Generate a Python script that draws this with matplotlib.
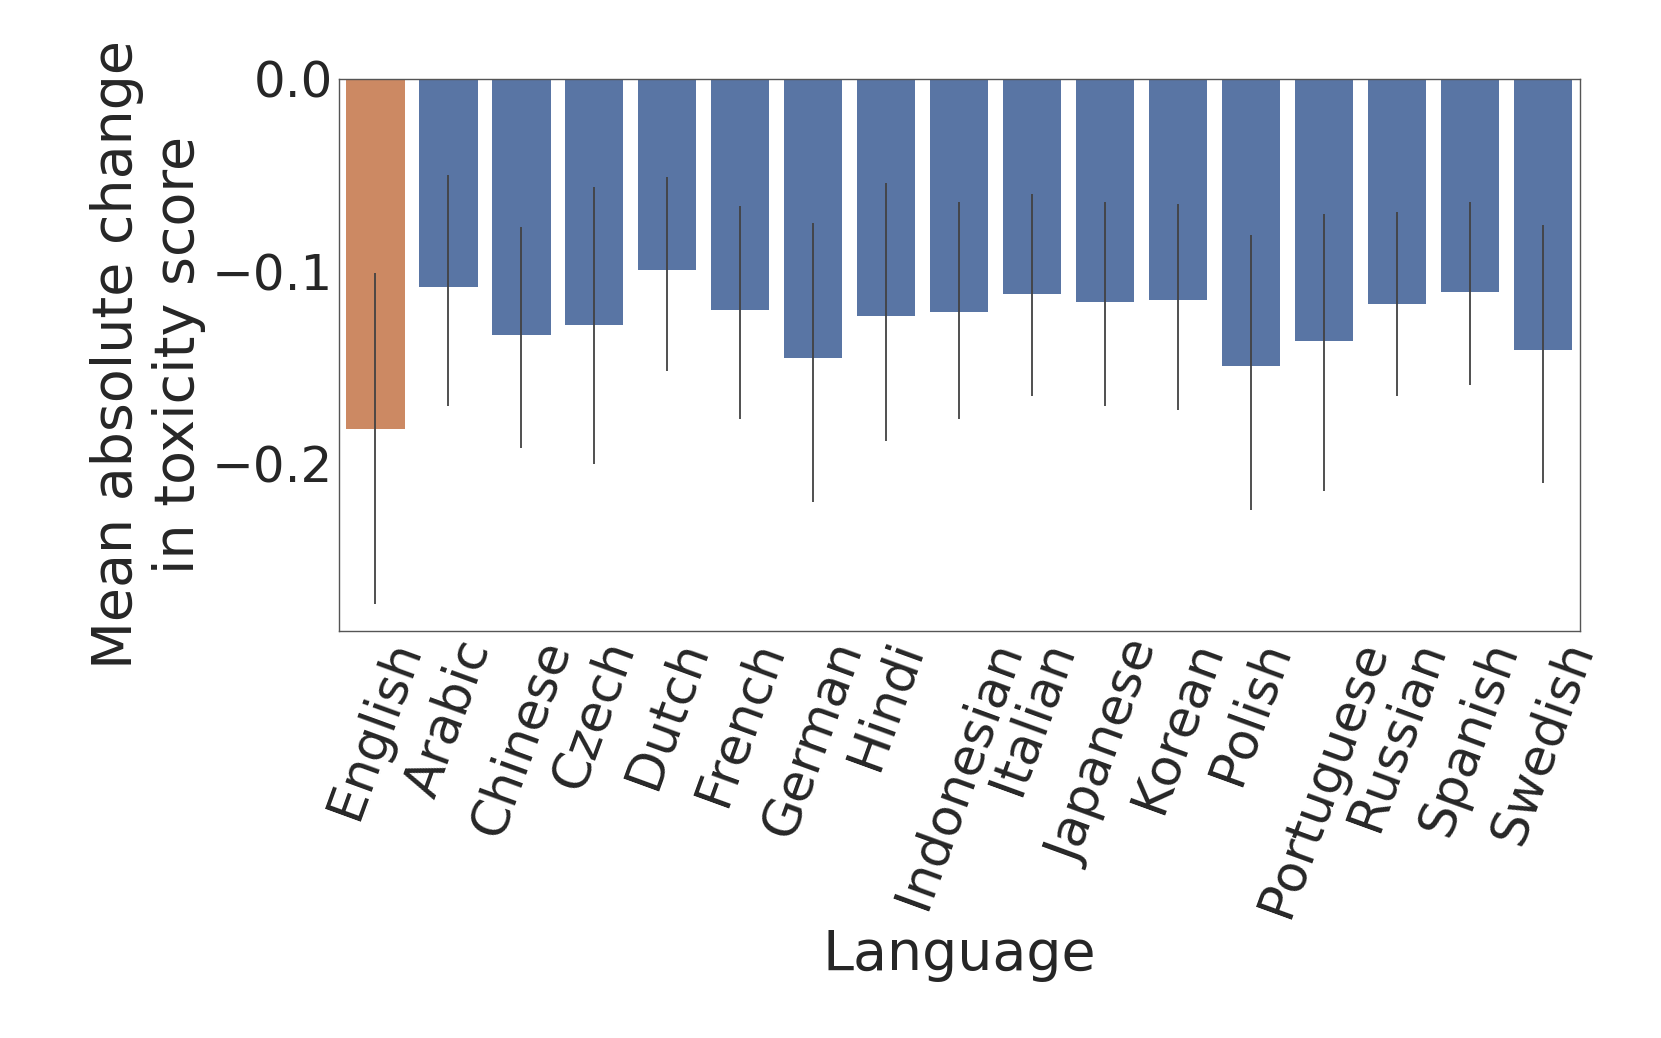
import numpy as np
import matplotlib.pyplot as plt

languages = ['English', 'Arabic', 'Chinese', 'Czech', 'Dutch', 'French', 'German',
             'Hindi', 'Indonesian', 'Italian', 'Japanese', 'Korean', 'Polish',
             'Portuguese', 'Russian', 'Spanish', 'Swedish']
mean_change = [-0.182, -0.108, -0.133, -0.128, -0.0995, -0.120, -0.145,
               -0.123, -0.121, -0.112, -0.116, -0.115, -0.149,
               -0.136, -0.117, -0.111, -0.141]
ci_high = [-0.101, -0.050, -0.077, -0.056, -0.051, -0.066, -0.075,
           -0.054, -0.064, -0.060, -0.064, -0.065, -0.081,
           -0.070, -0.069, -0.064, -0.076]
ci_low = [-0.273, -0.170, -0.192, -0.200, -0.152, -0.177, -0.220,
          -0.188, -0.177, -0.165, -0.170, -0.172, -0.224,
          -0.214, -0.165, -0.159, -0.210]

blue = '#5975a4'
orange = '#cc8963'

fig, ax = plt.subplots(figsize=(16.61, 10.38), dpi=100)
fig.subplots_adjust(left=0.204, right=0.951, top=0.924, bottom=0.392)

x = np.arange(len(languages))
colors = [orange if lang == 'English' else blue for lang in languages]
ax.bar(x, mean_change, width=0.8, color=colors, edgecolor='none')

# confidence intervals
ax.vlines(x, ci_low, ci_high, color='#424242', linewidth=1.3)

ax.set_xlim(-0.5, len(languages) - 0.5)
ax.set_ylim(-0.287, 0)
ax.set_yticks([0.0, -0.1, -0.2])
ax.set_yticklabels(['0.0', '\u22120.1', '\u22120.2'])
ax.set_xticks(x)
ax.set_xticklabels(languages, rotation=70)
ax.tick_params(axis='y', length=0, labelsize=36, colors='#262626', pad=4)
ax.tick_params(axis='x', length=0, labelsize=37, colors='#262626', pad=2)

for side in ['left', 'right', 'top', 'bottom']:
    ax.spines[side].set_color('#555555')
    ax.spines[side].set_linewidth(1.0)

ax.set_xlabel('Language', fontsize=40, color='#262626')
ax.set_ylabel('Mean absolute change\nin toxicity score', fontsize=40,
              color='#262626', labelpad=4)

plt.savefig('out.png')
